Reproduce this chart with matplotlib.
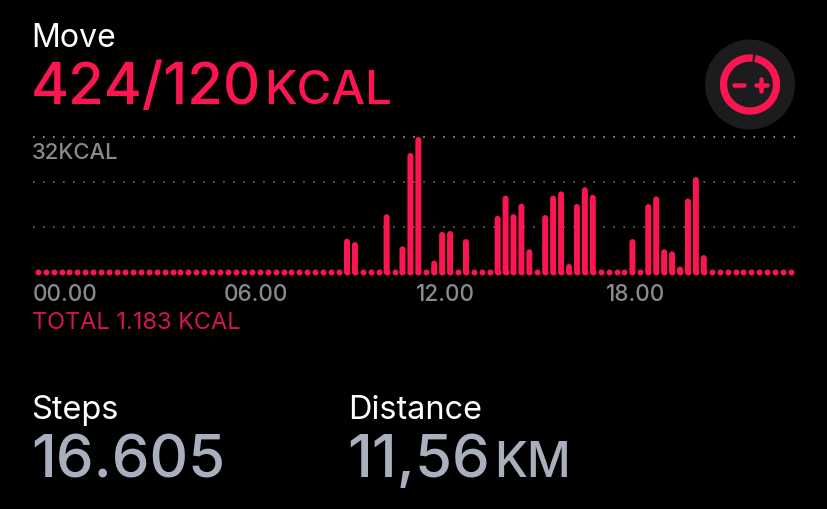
import matplotlib
matplotlib.use("Agg")
import matplotlib.pyplot as plt
from matplotlib.patches import Circle, Arc

W, H = 828, 509
BG = "#000000"
RED = "#fb1652"
RED_DIM = "#d6164b"
GRAY = "#8a8a8e"
LIGHT = "#a9afbd"
plt.rcParams["font.family"] = ["Inter", "Liberation Sans", "DejaVu Sans"]

kcal = [0]*39 + [7.2, 6.4, 0, 0, 0, 13.0, 0, 5.4, 27.5, 31.3, 0, 2.0, 8.8, 9.0, 0, 7.1,
       0, 0, 0, 12.6, 17.4, 13.0, 15.5, 4.7, 0, 12.8, 17.4, 18.4, 1.2, 15.4, 19.4, 17.6,
       0, 0, 0, 0, 7.1, 0, 15.4, 17.2, 4.7, 4.2, 0.6, 16.7, 21.8, 3.3] + [0]*11
tick_pos = [-0.6, 23.4, 47.65, 71.65]
tick_labels = ["00.00", "06.00", "12.00", "18.00"]
grid_vals = [32, 21.33, 10.67]
grid_cols = ["#bdbdbd", "#808080", "#808080"]

fig = plt.figure(figsize=(W/100, H/100), dpi=100, facecolor=BG)

ov = fig.add_axes([0, 0, 1, 1], zorder=0)
ov.set_xlim(0, W); ov.set_ylim(H, 0); ov.axis("off")

px_per_bar = 7.94
px_per_kcal = 4.22
ax = fig.add_axes([33/W, 1-280/H, 762/W, 150/H], zorder=1)
ax.set_facecolor("none")
ax.set_xlim(-4/px_per_bar, 95 + 4/px_per_bar)
ax.set_ylim(-8/px_per_kcal, 142/px_per_kcal)
for s in ax.spines.values():
    s.set_visible(False)
for g, c in zip(grid_vals, grid_cols):
    ax.axhline(g, color=c, lw=1.1, dashes=(1.0, 5.55), zorder=1)
lw_pt = 6.0 * 0.72
for i, v in enumerate(kcal):
    ln, = ax.plot([i, i], [0, v], color=RED, lw=lw_pt, solid_capstyle="round", zorder=3,
                  marker="o", markevery=[0], ms=lw_pt, mew=0, clip_on=False)
    ln.set_snap(False)
ax.set_yticks([])
ax.set_xticks(tick_pos)
ax.set_xticklabels(tick_labels, ha="left", color=GRAY, fontsize=22.5*0.72, fontweight="medium")
ax.tick_params(axis="x", length=0, pad=3.0)

def txt(x, y, s, size_px, color, weight="normal"):
    ov.text(x, y, s, fontsize=size_px*0.72, color=color, fontweight=weight,
            ha="left", va="baseline")

txt(31.5, 47, "Move", 32, "#ffffff")
txt(31, 104, "424/120", 58, RED, "medium")
txt(264, 104, "KCAL", 47.5, RED, "medium")
txt(32, 159, "32KCAL", 22, GRAY, "medium")
txt(32, 329, "TOTAL 1.183 KCAL", 23.5, RED_DIM)
txt(31.5, 419, "Steps", 32.5, "#ffffff")
txt(348, 419, "Distance", 32.5, "#ffffff")
txt(31, 477, "16.605", 60, LIGHT, "medium")
txt(347, 477, "11,56", 60, LIGHT, "medium")
txt(494, 477, "KM", 48, LIGHT, "medium")

cx, cy = 750, 84.5
ov.add_patch(Circle((cx, cy), 45, color="#1c1c1e", lw=0))
ov.add_patch(Arc((cx, cy), 53, 53, theta1=-79, theta2=276, color=RED, lw=7.3*0.72, capstyle="butt"))
ov.plot([734, 744], [cy, cy], color=RED, lw=4.5*0.72, solid_capstyle="round")
ov.plot([756, 767], [cy, cy], color=RED, lw=4.5*0.72, solid_capstyle="round")
ov.plot([761.5, 761.5], [cy-6, cy+6], color=RED, lw=4.5*0.72, solid_capstyle="round")

fig.savefig("out.png", dpi=100, facecolor=BG)
